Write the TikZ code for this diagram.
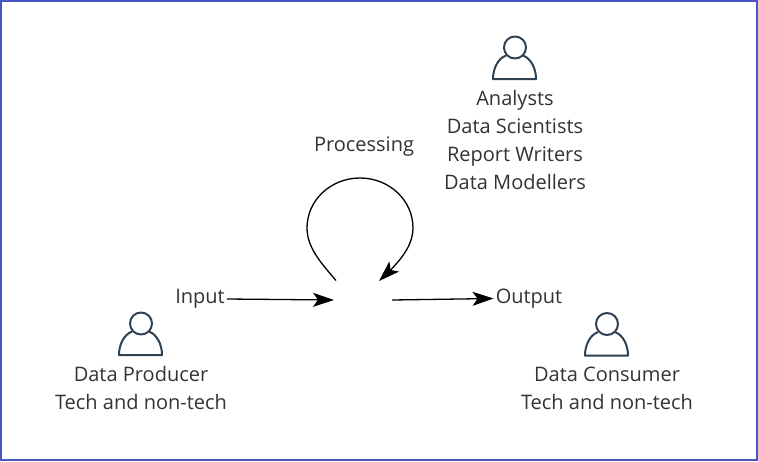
\documentclass[tikz,border=0pt]{standalone}
\usepackage{fontspec}
\setmainfont{Open Sans}
\usetikzlibrary{arrows.meta,bending}
\definecolor{txt}{HTML}{333333}
\definecolor{icon}{HTML}{2F4254}
\definecolor{frame}{HTML}{4A55C4}
\tikzset{
  lbl/.style={font=\fontsize{20}{28}\selectfont,text=txt,align=center,inner sep=0pt,anchor=center},
  flow/.style={draw=black,line width=1.3pt,-{Stealth[length=21pt,width=14pt,inset=5pt]}},
  personline/.style={draw=icon,line width=2pt,line join=round}
}
\newcommand{\person}[3]{%
  \begin{scope}[shift={(#1,#2)}]
    \node[circle,personline,minimum size=22pt,inner sep=0pt] (#3) at (0,0) {};
    \draw[personline] (-9,8) .. controls (-17,11) and (-22,21) .. (-22,31.5) -- (21,31.5) .. controls (21,21) and (16,11) .. (8,8);
  \end{scope}}
\begin{document}
\begin{tikzpicture}[x=1pt,y=-1pt]
  \useasboundingbox (0,0) rectangle (758,461);
  \fill[white] (0,0) rectangle (758,461);
  \draw[frame,line width=2.5pt] (1,1) rectangle (757,460);

  \person{515}{47.5}{analystIcon}
  \person{141}{323.5}{producerIcon}
  \person{607}{324}{consumerIcon}

  \node[lbl] (analysts) at (515,140) {Analysts\\Data Scientists\\Report Writers\\Data Modellers};
  \node[lbl] (producer) at (141,388) {Data Producer\\Tech and non-tech};
  \node[lbl] (consumer) at (607,388) {Data Consumer\\Tech and non-tech};
  \node[lbl] (processing) at (364,147) {Processing};
  \node[lbl] (input) at (200,299) {Input};
  \node[lbl] (output) at (529,298.5) {Output};

  \coordinate (inEnd) at (334,300);
  \coordinate (outStart) at (392,300);
  \coordinate (loopStart) at (336,280.5);
  \coordinate (loopEnd) at (379,281);

  \draw[flow] ([xshift=2pt]input.east) -- (inEnd);
  \draw[flow] (outStart) -- ([xshift=-2pt]output.west);
  \draw[flow] (loopStart) .. controls (322,264) and (307,248) .. (307,228)
     .. controls (307,200) and (331,178) .. (360,178)
     .. controls (389,178) and (413,200) .. (413,228)
     .. controls (413,246) and (400,262) .. (loopEnd);
\end{tikzpicture}
\end{document}
